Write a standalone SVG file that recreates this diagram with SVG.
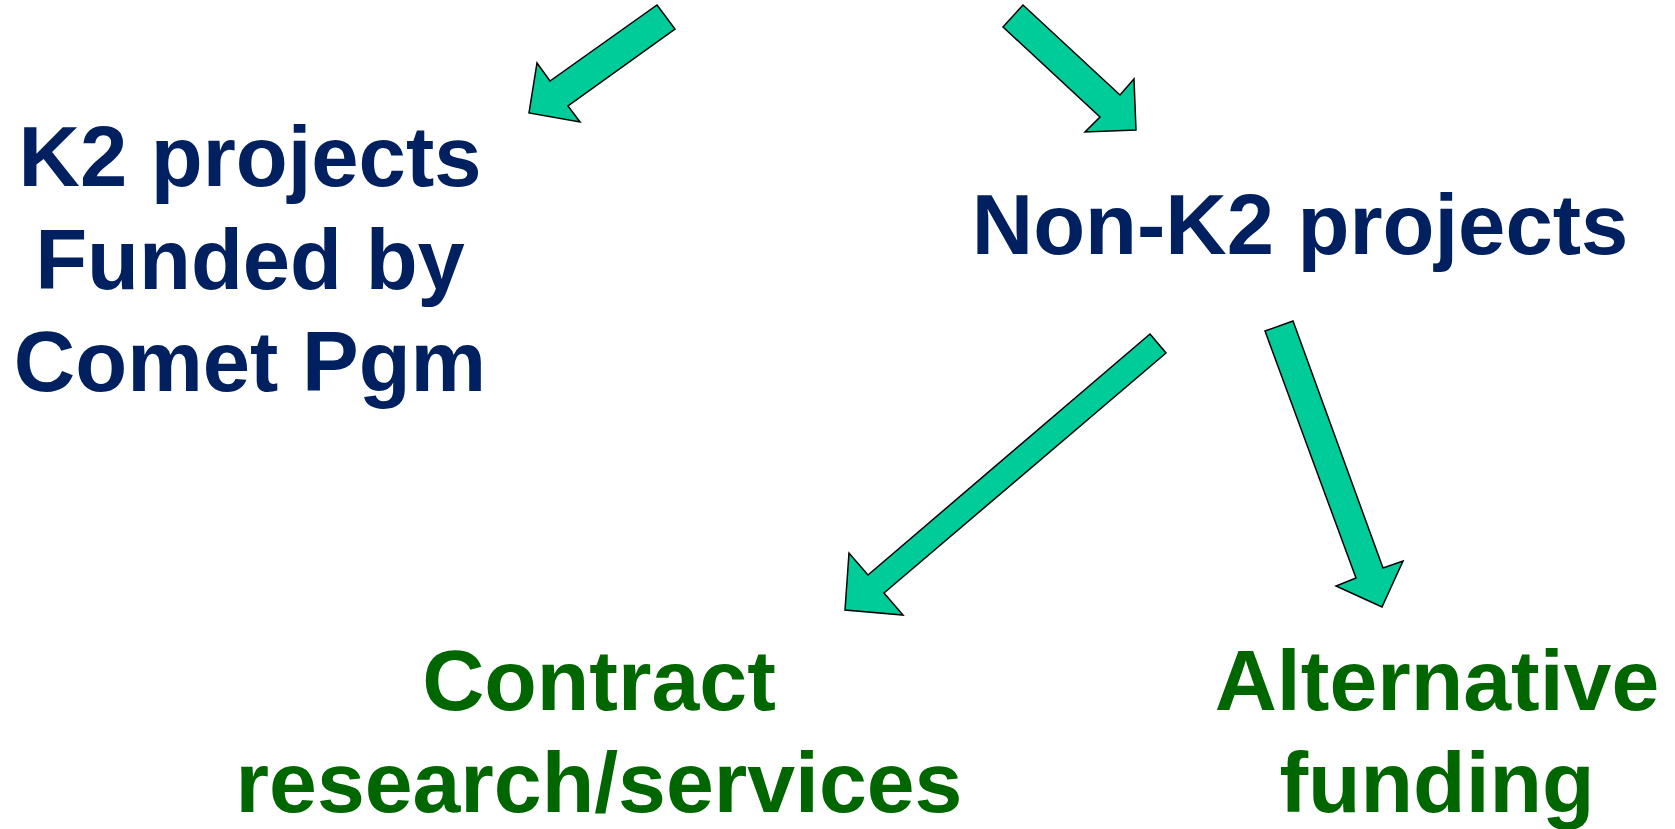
<svg xmlns="http://www.w3.org/2000/svg" width="1675" height="829" viewBox="0 0 1675 829">
  <style>
    .lbl { font-family: "Liberation Sans", Arial, sans-serif; font-weight: bold; font-size: 85px; text-anchor: middle; }
    .navy { fill: #002060; }
    .green { fill: #006600; font-size: 86px; }
    .arrow { fill: #00CC99; stroke: #000000; stroke-width: 1.5; stroke-linejoin: miter; }
  </style>
  <rect width="1675" height="829" fill="#ffffff"/>

  <!-- block arrows -->
  <g id="connectors">
    <polygon class="arrow" points="657,5 675,29 568,106 580,122 529,113 537,63 550,81"/>
    <polygon class="arrow" points="1023,5 1003,27 1100,117 1085,132 1136,130 1134,79 1120,95"/>
    <polygon class="arrow" points="1150,334 1166,353 884,593 903,615 845,610 849,553 868,575"/>
    <polygon class="arrow" points="1265,331 1293,321 1383,568 1403,561 1382,607 1336,586 1356,578"/>
  </g>

  <g id="k2-projects">
    <text class="lbl navy" x="250" y="186">K2 projects</text>
    <text class="lbl navy" x="250" y="289">Funded by</text>
    <text class="lbl navy" x="250" y="391">Comet Pgm</text>
  </g>

  <g id="non-k2-projects">
    <text class="lbl navy" x="1300" y="254">Non-K2 projects</text>
  </g>

  <g id="contract-research">
    <text class="lbl green" x="599" y="710">Contract</text>
    <text class="lbl green" x="599" y="812">research/services</text>
  </g>

  <g id="alternative-funding">
    <text class="lbl green" x="1437" y="710">Alternative</text>
    <text class="lbl green" x="1437" y="812">funding</text>
  </g>
</svg>
